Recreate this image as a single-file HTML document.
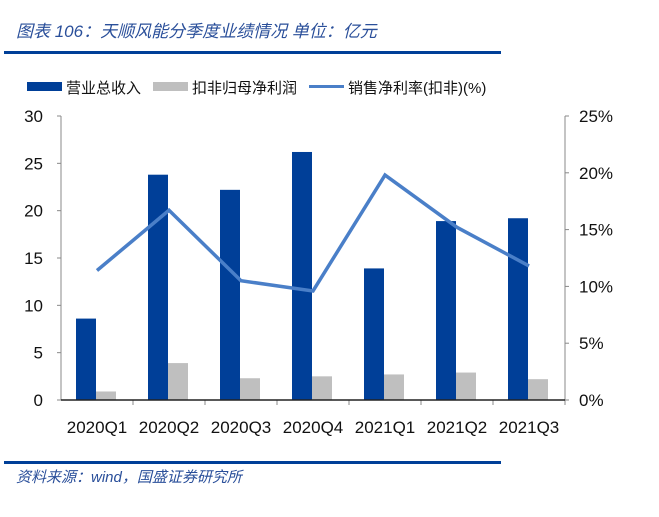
<!DOCTYPE html>
<html><head><meta charset="utf-8"><style>
body{margin:0;background:#fff;width:659px;height:512px;overflow:hidden;font-family:"Liberation Sans","Noto Sans CJK SC",sans-serif}
</style></head><body>
<svg width="659" height="512" id="svg" xmlns="http://www.w3.org/2000/svg">
<text x="16" y="37" font-size="17" font-style="italic" fill="#2a4f9a" font-family="Liberation Sans, Noto Sans CJK SC, sans-serif">图表 106：天顺风能分季度业绩情况 单位：亿元</text>
<rect x="4" y="51" width="497" height="3" fill="#003f98"/>
<rect x="4" y="461" width="497" height="3" fill="#003f98"/>
<text x="16" y="482" font-size="15" font-style="italic" fill="#2a4f9a">资料来源：wind，国盛证券研究所</text>
<g>
<rect x="27" y="82" width="35" height="9" fill="#003f98"/>
<text x="66" y="93" font-size="15" fill="#111">营业总收入</text>
<rect x="153" y="82" width="35" height="9" fill="#bfbfbf"/>
<text x="192" y="93" font-size="15" fill="#111">扣非归母净利润</text>
<rect x="309" y="85" width="35" height="3" fill="#4a7fc8"/>
<text x="348" y="93" font-size="15" fill="#111">销售净利率(扣非)(%)</text>
</g>
<g id="plot"></g>
</svg>
<script>
const categories=["2020Q1","2020Q2","2020Q3","2020Q4","2021Q1","2021Q2","2021Q3"];
const revenue=[8.6,23.8,22.2,26.2,13.9,18.9,19.2];
const profit=[0.9,3.9,2.3,2.5,2.7,2.9,2.2];
const margin=[11.4,16.7,10.5,9.6,19.8,15.2,11.8];
const leftTicks=[0,5,10,15,20,25,30];
const rightTicks=[0,5,10,15,20,25];
const X0=61,X1=565,Y0=400,Y1=116;
const bw=(X1-X0)/categories.length;
const yL=v=>Y0-(v/30)*(Y0-Y1);
const yR=v=>Y0-(v/25)*(Y0-Y1);
const NS="http://www.w3.org/2000/svg";
const g=document.getElementById('plot');
function mk(t,a){const e=document.createElementNS(NS,t);for(const k in a)e.setAttribute(k,a[k]);g.appendChild(e);return e;}
let e;
e=mk('line',{x1:X0,y1:Y1,x2:X0,y2:Y0,stroke:'#888'});


e=mk('line',{x1:X1,y1:Y1,x2:X1,y2:Y0,stroke:'#888'});


leftTicks.forEach(v=>{mk('line',{x1:X0-4,x2:X0,y1:yL(v),y2:yL(v),stroke:'#888'});
e=mk('text',{x:X0-18,y:yL(v)+6,'font-size':17,'text-anchor':'end',fill:'#111'});e.textContent=v;

});
rightTicks.forEach(v=>{mk('line',{x1:X1,x2:X1+4,y1:yR(v),y2:yR(v),stroke:'#888'});
e=mk('text',{x:X1+14,y:yR(v)+6,'font-size':17,fill:'#111'});e.textContent=v+'%';

});
categories.forEach((c,i)=>{const x=X0+i*bw;
mk('line',{x1:x+bw,x2:x+bw,y1:Y0,y2:Y0+5,stroke:'#888'});
e=mk('rect',{x:x+15,y:yL(revenue[i]),width:20,height:Y0-yL(revenue[i]),fill:'#003f98'});


e=mk('rect',{x:x+35,y:yL(profit[i]),width:20,height:Y0-yL(profit[i]),fill:'#bfbfbf'});


e=mk('text',{x:x+bw/2,y:Y0+33,'font-size':17,'text-anchor':'middle',fill:'#111'});e.textContent=c;

});
e=mk('line',{x1:X0,y1:Y0,x2:X1,y2:Y0,stroke:'#222','stroke-width':1.5});


e=mk('polyline',{points:margin.map((v,i)=>(X0+(i+0.5)*bw)+','+yR(v)).join(' '),fill:'none',stroke:'#4a7fc8','stroke-width':3.5});


</script>
</body></html>
